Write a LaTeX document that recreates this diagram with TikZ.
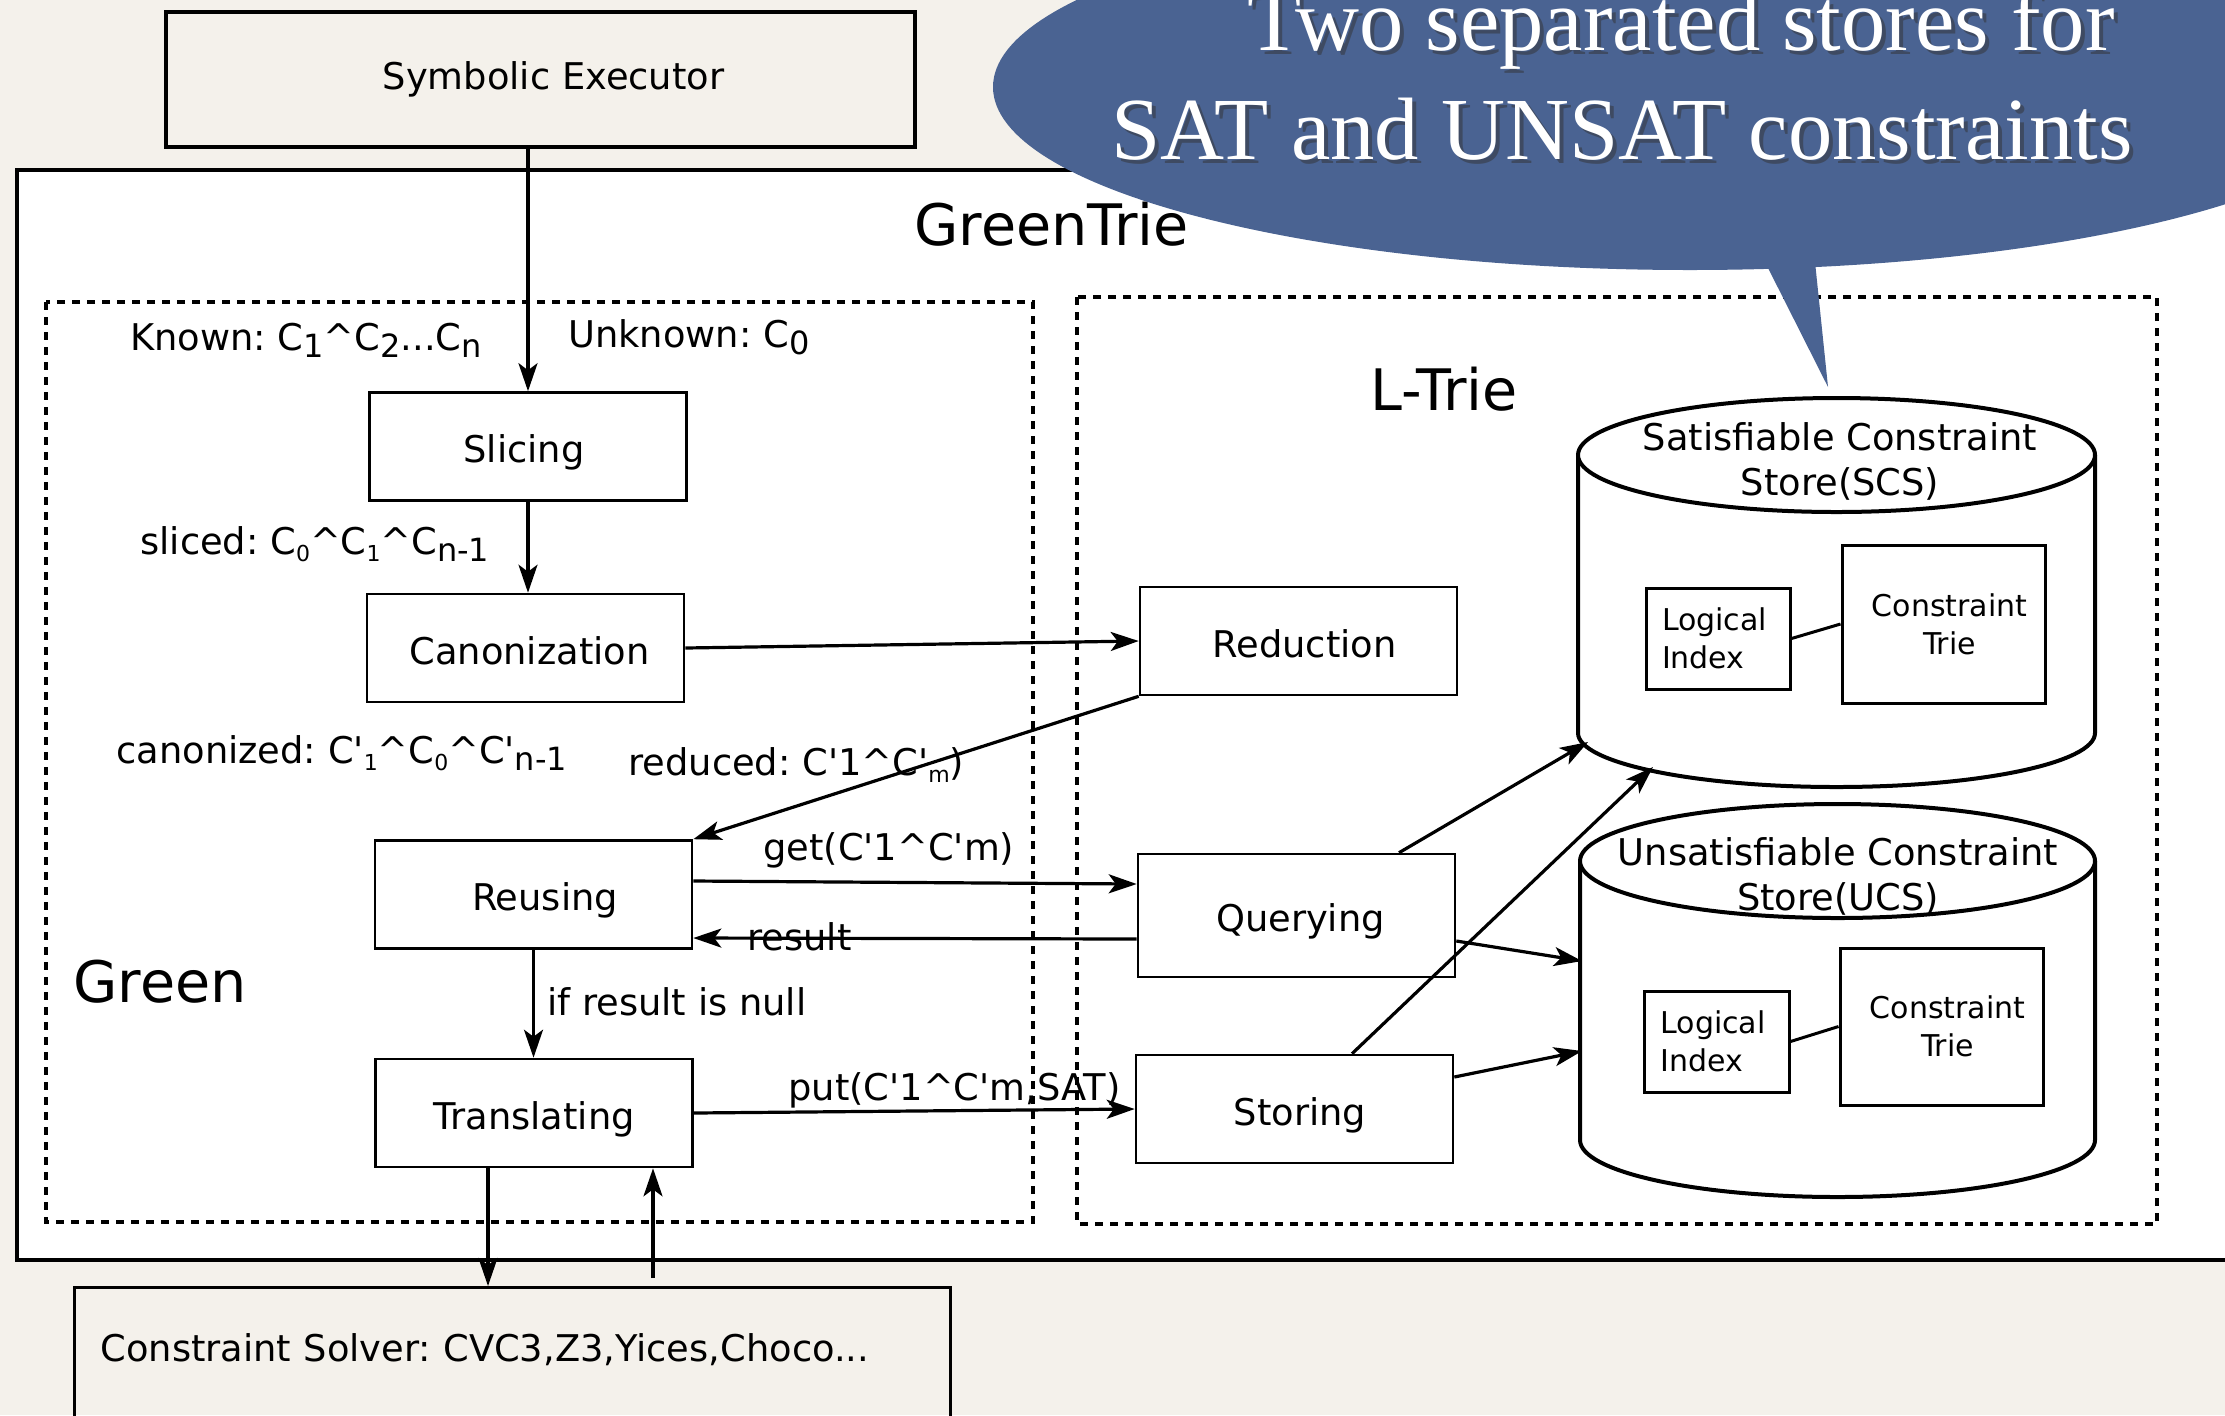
\documentclass[tikz,border=0pt]{standalone}
\usepackage{fontspec}
\setmainfont{DejaVu Sans}
\newfontfamily\calloutfont{Liberation Serif}
\usetikzlibrary{arrows.meta,calc}
\definecolor{paper}{RGB}{244,241,235}
\definecolor{calloutBlue}{RGB}{74,99,146}
\newcommand\lo[1]{\raisebox{-3.5pt}{\fontsize{16}{16}\selectfont #1}}
\newcommand\sub[1]{\raisebox{-3.5pt}{\fontsize{11}{11}\selectfont #1}}
\newcommand\pr{\textquotesingle}
\newcommand\caret{\textasciicircum}
\frenchspacing

\begin{document}
\begin{tikzpicture}[x=0.5pt,y=-0.5pt,
  every node/.style={font=\fontsize{18.4}{22.5}\selectfont},
  box/.style={draw,line width=1.3pt,fill=white,minimum width=158.5pt,minimum height=54pt,inner sep=0pt,text height=17pt,text depth=1pt},
  grp/.style={draw,line width=2.1pt,dash pattern=on 4pt off 3.5pt},
  lbl/.style={anchor=base west,inner sep=0pt},
  big/.style={lbl,font=\fontsize{28.6}{34}\selectfont},
  arr/.style={line width=1.6pt,-{Stealth[length=14pt,width=9.5pt,inset=3.5pt]}},
  store/.style={line width=2pt,fill=white},
  inbox/.style={draw,line width=1.5pt,inner sep=0pt,font=\fontsize{15}{19}\selectfont},
  shade/.style={anchor=base west,inner sep=0pt,text=black!80,opacity=0.5,font=\calloutfont\fontsize{44.3}{50}\selectfont},
  callt/.style={anchor=base west,inner sep=0pt,text=white,font=\calloutfont\fontsize{44.3}{50}\selectfont}]
\fill[paper] (0,0) rectangle (2225,1415);
\useasboundingbox (0,0) rectangle (2225,1415);
\def\callline#1#2#3{\node[shade] (#1s) at ($(#2)+(4,4)$) {#3}; \node[callt] (#1) at (#2) {#3};}

% frames
\draw[line width=2pt,fill=white] (17,170) rectangle (2260,1260);
\node[big] (gtLbl) at (914,245) {GreenTrie};
\draw[grp] (46,302) rectangle (1033,1222);
\draw[grp] (1077,297) rectangle (2157,1224);
\node[big] (grLbl) at (73,1002) {Green};
\node[big] (ltLbl) at (1370,410) {L-Trie};

\node[draw,line width=1.6pt,minimum width=374.5pt,minimum height=67.5pt] (sym) at (540.5,79.5) {\hspace*{13pt}Symbolic Executor};
\node[draw,line width=1.6pt,anchor=north west,inner xsep=13pt,inner ysep=0pt,text width=412pt,align=left,text height=37pt,text depth=80pt] (solv) at (73,1286) {Constraint Solver: CVC3,Z3,Yices,Choco...};

% Green side
\node[box] (slic) at (528,446.5) {\hspace*{-4pt}Slicing};
\node[box] (canon) at (525.5,648) {\hspace*{4pt}Canonization};
\node[box] (reus) at (533.5,894.5) {\hspace*{11.5pt}Reusing};
\node[box] (trans) at (534,1113) {Translating};
% L-Trie side
\node[box] (red) at (1298.5,641) {\hspace*{6pt}Reduction};
\node[box,minimum height=61.5pt] (quer) at (1296.5,915.5) {\hspace*{4pt}Querying};
\node[box] (stor) at (1294.5,1109) {\hspace*{5.5pt}Storing};

% stores
\draw[store] (1578,455) -- (1578,733) arc[start angle=180,end angle=360,x radius=129.25pt,y radius=27pt] -- (2095,455);
\draw[store] (1836.5,455) ellipse[x radius=129.25pt,y radius=28.5pt];
\node[align=center] (scsT) at (1840,461) {Satisfiable Constraint\\Store(SCS)};
\node[inbox,minimum width=72pt,minimum height=50.5pt,text width=56pt,align=left] (scsLi) at (1718,638.5) {Logical\\Index};
\node[inbox,minimum width=101.5pt,minimum height=79pt,align=center] (scsCt) at (1943.5,624) {\hspace*{6pt}Constraint\\\hspace*{6pt}Trie};
\draw[line width=1.5pt] (scsLi.east) -- (scsCt.west);

\draw[store] (1580,861) -- (1580,1140) arc[start angle=180,end angle=360,x radius=128.75pt,y radius=28.5pt] -- (2095,861);
\draw[store] (1837.5,861) ellipse[x radius=128.75pt,y radius=28.5pt];
\node[align=center] (ucsT) at (1838,876) {Unsatisfiable Constraint\\Store(UCS)};
\node[inbox,minimum width=72.5pt,minimum height=50.5pt,text width=56pt,align=left] (ucsLi) at (1716.5,1041.5) {Logical\\Index};
\node[inbox,minimum width=101.5pt,minimum height=78.5pt,align=center] (ucsCt) at (1941.5,1026.5) {\hspace*{6pt}Constraint\\\hspace*{6pt}Trie};
\draw[line width=1.5pt] (ucsLi.east) -- (ucsCt.west);

\coordinate (scsIn1) at (1588,742);
\coordinate (scsIn2) at (1653,767);
\coordinate (ucsIn1) at (1582,961);
\coordinate (ucsIn2) at (1582,1051);
\coordinate (solvIn) at (488,1286);
\coordinate (solvOut) at (653,1278);

% flow
\draw[arr] (slic.north |- sym.south) -- (slic.north);
\draw[arr] (slic.south) -- (slic.south |- canon.north);
\draw[arr] (canon.east) -- (red.west);
\draw[arr] (red.south west) -- (reus.north east);
\draw[arr] ([yshift=6.75pt]reus.east) -- ([yshift=15.75pt]quer.west);
\draw[arr] ([yshift=-11.75pt]quer.west) -- ([yshift=-21.75pt]reus.east);
\draw[arr] (reus.south) -- (reus.south |- trans.north);
\draw[arr] (trans.east) -- (stor.west);
\draw[arr] (trans.south -| solvIn) -- (solvIn);
\draw[arr] (solvOut) -- (trans.south -| solvOut);
\draw[arr] ([xshift=51.25pt]quer.north) -- (scsIn1);
\draw[arr] ([yshift=-12.75pt]quer.east) -- (ucsIn1);
\draw[arr] ([xshift=28.75pt]stor.north) -- (scsIn2);
\draw[arr] ([yshift=16pt]stor.east) -- (ucsIn2);

% labels
\node[lbl] (knownLbl) at (130,350) {Known: C\lo{1}\caret C\lo{2}...C\lo{n}};
\node[lbl] (unknownLbl) at (568,347) {Unknown: C\lo{0}};
\node[lbl] (slicedLbl) at (140,554) {sliced: C\sub{0}\caret C\sub{1}\caret C\lo{n-1}};
\node[lbl] (canonLbl) at (116,763) {canonized: C\pr\sub{1}\caret C\sub{0}\caret C\pr\lo{n-1}};
\node[lbl] (redLbl) at (628,775) {reduced: C\pr1\caret C\pr\sub{m})};
\node[lbl] (getLbl) at (763,860) {get(C\pr1\caret C\pr m)};
\node[lbl] (resLbl) at (747,950) {result};
\node[lbl] (nullLbl) at (547,1015) {if result is null};
\node[lbl] (putLbl) at (788,1100) {put(C\pr1\caret C\pr m,SAT)};

% callout
\fill[calloutBlue] (1690,87) ellipse[x radius=348.5pt,y radius=91.5pt];
\fill[calloutBlue] (1765,262) -- (1828,387) -- (1815,262) -- cycle;
\callline{callTop}{1247,50}{Two separated stores for}
\callline{callBot}{1111,159}{SAT and UNSAT constraints}
\end{tikzpicture}
\end{document}
